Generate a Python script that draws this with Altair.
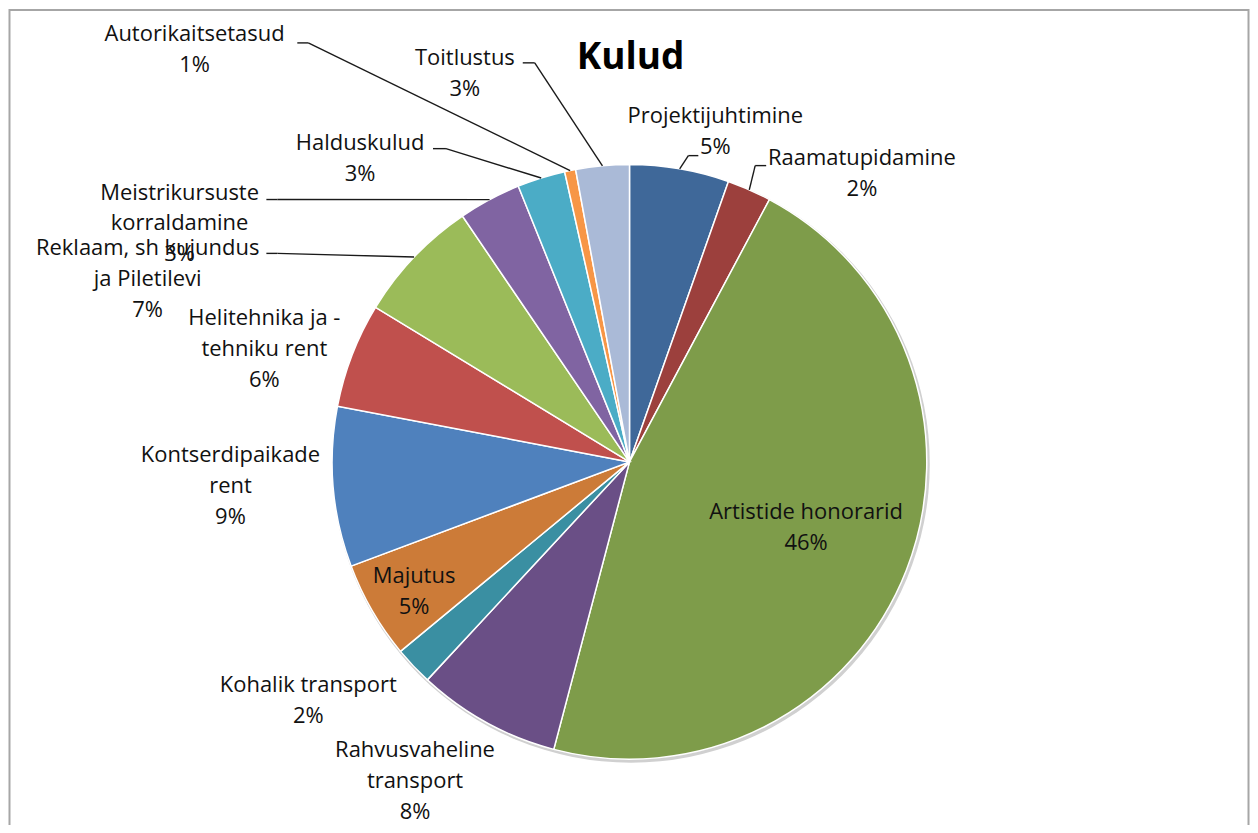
import altair as alt
import pandas as pd

# ---- data ----
title_text = "Kulud"
categories = [
    "Projektijuhtimine", "Raamatupidamine", "Artistide honorarid",
    "Rahvusvaheline transport", "Kohalik transport", "Majutus",
    "Kontserdipaikade rent", "Helitehnika ja -tehniku rent",
    "Reklaam, sh kujundus ja Piletilevi", "Meistrikursuste korraldamine",
    "Halduskulud", "Autorikaitsetasud", "Toitlustus",
]
values = [5.4, 2.4, 46.3, 7.8, 2.1, 5.3, 8.7, 5.7, 6.8, 3.4, 2.6, 0.6, 2.9]
label_lines = [
    "Projektijuhtimine", "Raamatupidamine", "Artistide honorarid",
    "Rahvusvaheline\ntransport", "Kohalik transport", "Majutus",
    "Kontserdipaikade\nrent", "Helitehnika ja -\ntehniku rent",
    "Reklaam, sh kujundus\nja Piletilevi", "Meistrikursuste\nkorraldamine",
    "Halduskulud", "Autorikaitsetasud", "Toitlustus",
]

# ---- style / layout ----
colors = ["#3F6899", "#9C403D", "#7E9C4A", "#6A4F86", "#3A8FA2", "#CC7B38",
          "#4F81BD", "#C0504D", "#9BBB59", "#8064A2", "#4BACC6", "#F79646", "#AABAD7"]
label_x = [717, 864, 808, 416, 309, 415, 231, 265, 148, 180, 361, 195, 466]
label_y = [115, 157, 512, 751, 686, 576, 455, 318, 248, 192, 142, 33, 57]
leader_y = [155, 165, None, None, None, None, None, None, 253, 199, 148, 42, 62]
leader_x0 = [700, 768, None, None, None, None, None, None, 267, 267, 434, 298, 524]
leader_x1 = [690, 757, None, None, None, None, None, None, 278, 278, 447, 309, 536]

CX, CY, R = 631, 462, 298
W, H = 1245, 817
FONT = "Open Sans"

df = pd.DataFrame({
    "idx": list(range(len(categories))),
    "category": categories,
    "value": values,
    "text": label_lines,
    "color": colors,
    "lx": label_x, "ly": label_y,
    "ldy": leader_y, "lx0": leader_x0, "lx1": leader_x1,
})

xs = alt.Scale(domain=[8, 8 + W], range=[0, W])
ys = alt.Scale(domain=[8, 8 + H], range=[0, H])

base = alt.Chart(df).transform_joinaggregate(
    total="sum(value)"
).transform_window(
    cum="sum(value)", sort=[alt.SortField("idx")], frame=[None, 0]
).transform_calculate(
    pct="format(datum.value / datum.total, '.0%')",
    mid="(datum.cum - datum.value / 2) / datum.total * 2 * PI",
).transform_calculate(
    ex=f"{CX} + {R} * sin(datum.mid)",
    ey=f"{CY} - {R} * cos(datum.mid)",
    label="datum.text + '\\n' + datum.pct",
)

# border
border = alt.Chart(pd.DataFrame({"a": [0]})).mark_rect(
    fill="white", stroke="#A6A6A6", strokeWidth=2
).encode(
    x=alt.X(datum=9.5, scale=xs, axis=None), x2=alt.datum(1251.5),
    y=alt.Y(datum=9, scale=ys, axis=None), y2=alt.datum(900),
)

shadow = alt.Chart(pd.DataFrame({"a": [0]})).mark_arc(
    theta=0, theta2=6.2832, color="#D0D0D0", radius=R + 1.5
).encode(
    x=alt.X(datum=CX + 1.5, scale=xs, axis=None),
    y=alt.Y(datum=CY + 2, scale=ys, axis=None),
)

pie = base.mark_arc(stroke="white", strokeWidth=1.5, radius=R).encode(
    theta=alt.Theta("value:Q", stack=True),
    order=alt.Order("idx:Q"),
    color=alt.Color("color:N", scale=None),
    x=alt.X(datum=CX, scale=xs, axis=None),
    y=alt.Y(datum=CY, scale=ys, axis=None),
)

leaders = base.transform_filter("isValid(datum.lx0)")
lead1 = leaders.mark_rule(color="#1A1A1A", strokeWidth=1.4).encode(
    x=alt.X("lx0:Q", scale=xs, axis=None), x2="lx1:Q",
    y=alt.Y("ldy:Q", scale=ys, axis=None),
)
lead2 = leaders.mark_rule(color="#1A1A1A", strokeWidth=1.4).encode(
    x=alt.X("lx1:Q", scale=xs, axis=None), x2="ex:Q",
    y=alt.Y("ldy:Q", scale=ys, axis=None), y2="ey:Q",
)

labels = base.mark_text(
    font=FONT, fontSize=22, lineHeight=31, lineBreak="\n",
    align="center", baseline="middle", color="#111111",
).encode(
    x=alt.X("lx:Q", scale=xs, axis=None),
    y=alt.Y("ly:Q", scale=ys, axis=None),
    text="label:N",
)

title = alt.Chart(pd.DataFrame({"t": [title_text]})).mark_text(
    font=FONT, fontSize=37, fontWeight="bold", align="center",
    baseline="middle", color="black",
).encode(
    x=alt.X(datum=632, scale=xs, axis=None),
    y=alt.Y(datum=57, scale=ys, axis=None),
    text="t:N",
)

chart = alt.layer(border, shadow, pie, lead1, lead2, labels, title).properties(
    width=W, height=H, autosize=alt.AutoSizeParams(type="none"), padding=0,
).configure_view(stroke=None)

chart.save("out.html", embed_options={"renderer": "svg", "actions": False})
